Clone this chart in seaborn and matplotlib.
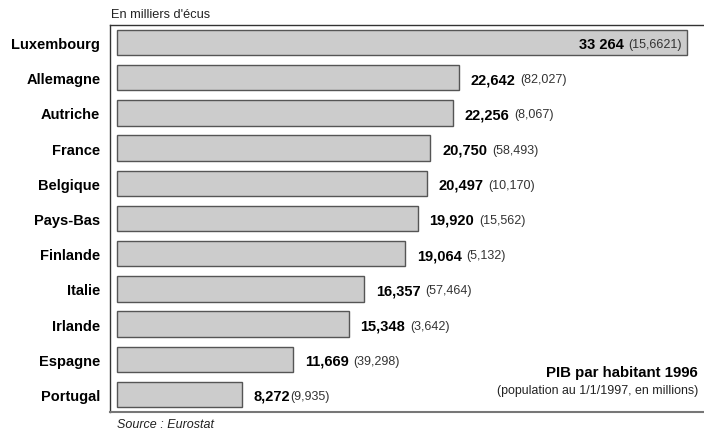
import matplotlib.pyplot as plt
import seaborn as sns
import pandas as pd

# Données (PIB par habitant 1996, en milliers d'écus)
pays = ["Luxembourg", "Allemagne", "Autriche", "France", "Belgique", "Pays-Bas",
        "Finlande", "Italie", "Irlande", "Espagne", "Portugal"]
pib_texte = ["33 264", "22,642", "22,256", "20,750", "20,497", "19,920",
             "19,064", "16,357", "15,348", "11,669", "8,272"]
population_texte = ["(15,6621)", "(82,027)", "(8,067)", "(58,493)", "(10,170)", "(15,562)",
                    "(5,132)", "(57,464)", "(3,642)", "(39,298)", "(9,935)"]
# longueur des barres (la barre du Luxembourg est dessinée plus longue)
longueur_barres = [37750, 22642, 22256, 20750, 20497, 19920, 19064, 16357, 15348, 11669, 8272]

df = pd.DataFrame({"pays": pays, "valeur": longueur_barres})

sns.set_theme(style="white")
plt.rcParams["font.family"] = ["Liberation Sans", "DejaVu Sans"]

W, H = 704, 439
fig = plt.figure(figsize=(W / 100, H / 100), dpi=100)
ax = fig.add_axes([110 / W, (H - 413) / H, 594 / W, 387 / H])

sns.barplot(data=df, x="valeur", y="pays", orient="h", color="#cccccc", saturation=1,
            edgecolor="#555555", linewidth=1.0, width=0.72, ax=ax)

ax.set_xlim(-464, 38874)
ax.set_ylim(10.5, -0.5)
ax.set_xticks([])
ax.set_xlabel("")
ax.set_ylabel("")
ax.tick_params(axis="y", length=0, pad=7)
for lbl in ax.get_yticklabels():
    lbl.set_fontweight("bold")
    lbl.set_fontsize(10.5)
    lbl.set_color("black")

ax.spines["right"].set_visible(False)
for s in ["left", "top"]:
    ax.spines[s].set_color("#333333")
    ax.spines[s].set_linewidth(1.0)
ax.spines["bottom"].set_color("#777777")
ax.spines["bottom"].set_linewidth(1.5)

# étiquettes des valeurs : chiffre en gras puis population entre parenthèses
for i, (v, t_pib, t_pop) in enumerate(zip(longueur_barres, pib_texte, population_texte)):
    if i == 0:
        t2 = ax.annotate(t_pop, xy=(v, i), xytext=(-4, 0), textcoords="offset points",
                         ha="right", va="center_baseline", fontsize=9, color="#333333")
        ax.annotate(t_pib, xy=(0, i), xycoords=(t2, "data"), xytext=(-3, 0),
                    textcoords="offset points", ha="right", va="center_baseline",
                    fontsize=10.5, fontweight="bold", color="black")
    else:
        t1 = ax.annotate(t_pib, xy=(v, i), xytext=(8.5, 0), textcoords="offset points",
                         ha="left", va="center_baseline", fontsize=10.5,
                         fontweight="bold", color="black")
        ecart = 0 if i == len(pays) - 1 else 3.5
        ax.annotate(t_pop, xy=(1, i), xycoords=(t1, "data"), xytext=(ecart, 0),
                    textcoords="offset points", ha="left", va="center_baseline",
                    fontsize=9, color="#333333")

fig.text(111 / W, 1 - 15 / H, "En milliers d'écus", ha="left", va="center",
         fontsize=9.2, color="#222222")
fig.text(117 / W, 1 - 425 / H, "Source : Eurostat", ha="left", va="center",
         fontsize=9, style="italic", color="#222222")
fig.text(698 / W, 1 - 373 / H, "PIB par habitant 1996", ha="right", va="center",
         fontsize=10.8, fontweight="bold", color="black")
fig.text(698 / W, 1 - 391 / H, "(population au 1/1/1997, en millions)", ha="right",
         va="center", fontsize=8.9, color="#222222")

fig.savefig("out.png", dpi=100)
